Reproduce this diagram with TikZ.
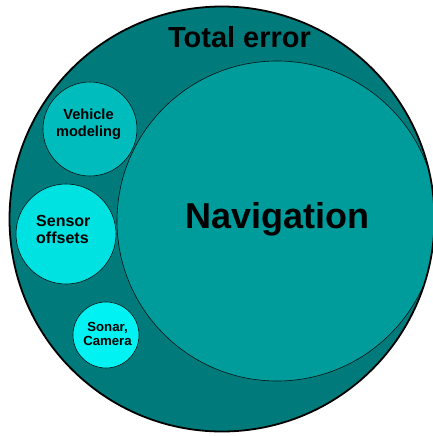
\documentclass[tikz,border=0pt]{standalone}
\usepackage{fontspec}
\setmainfont{Liberation Sans}
\usepackage{tikz}
\usetikzlibrary{positioning}
\definecolor{outerteal}{RGB}{0,122,122}
\definecolor{navteal}{RGB}{0,155,155}
\definecolor{vehteal}{RGB}{0,188,188}
\definecolor{senteal}{RGB}{0,225,225}
\definecolor{sonteal}{RGB}{0,242,242}

\begin{document}
\begin{tikzpicture}[
    x=1pt, y=-1pt,
    bubble/.style={circle, draw=black!85!teal, line width=0.6pt, inner sep=0pt},
    lbl/.style={inner sep=0pt, text=black}
    ]
\useasboundingbox (0,0) rectangle (432,436);

%Outer circle, total
\node[circle, fill=outerteal, inner sep=0pt, minimum size=425pt] (total) at (222,219) {};
\begin{scope}
  \clip (total.center) circle (212.5);
  \node[bubble, fill=navteal, minimum size=320pt] (nav) at (277,221) {};
\end{scope}
%Small parts, left side
\node[bubble, fill=vehteal, minimum size=94pt] (vehicle) at (90,129) {};
\node[bubble, fill=senteal, minimum size=100pt] (sensor) at (66,234) {};
\node[bubble, fill=sonteal, minimum size=66pt] (sonar) at (106,335) {};
\draw[line width=1.8pt] (total.center) circle (212.5);

%Labels
\node[lbl, font=\bfseries\fontsize{29}{32}\selectfont, anchor=base] (totaltxt) at (239.5,48) {Total error};
\node[lbl, font=\bfseries\fontsize{36}{40}\selectfont, anchor=base] (navtxt) at (277.5,228) {Navigation};
\node[lbl, font=\bfseries\fontsize{14.6}{17.5}\selectfont, align=center] (vehtxt) at (88.5,124.2) {Vehicle\\modeling};
\node[lbl, font=\bfseries\fontsize{16}{16.7}\selectfont, align=left, anchor=west] (sentxt) at (36,229.3) {Sensor\\offsets};
\node[lbl, font=\bfseries\fontsize{13.2}{13.5}\selectfont, align=center] (sontxt) at (107.5,334) {Sonar,\\Camera};
\end{tikzpicture}
\end{document}
